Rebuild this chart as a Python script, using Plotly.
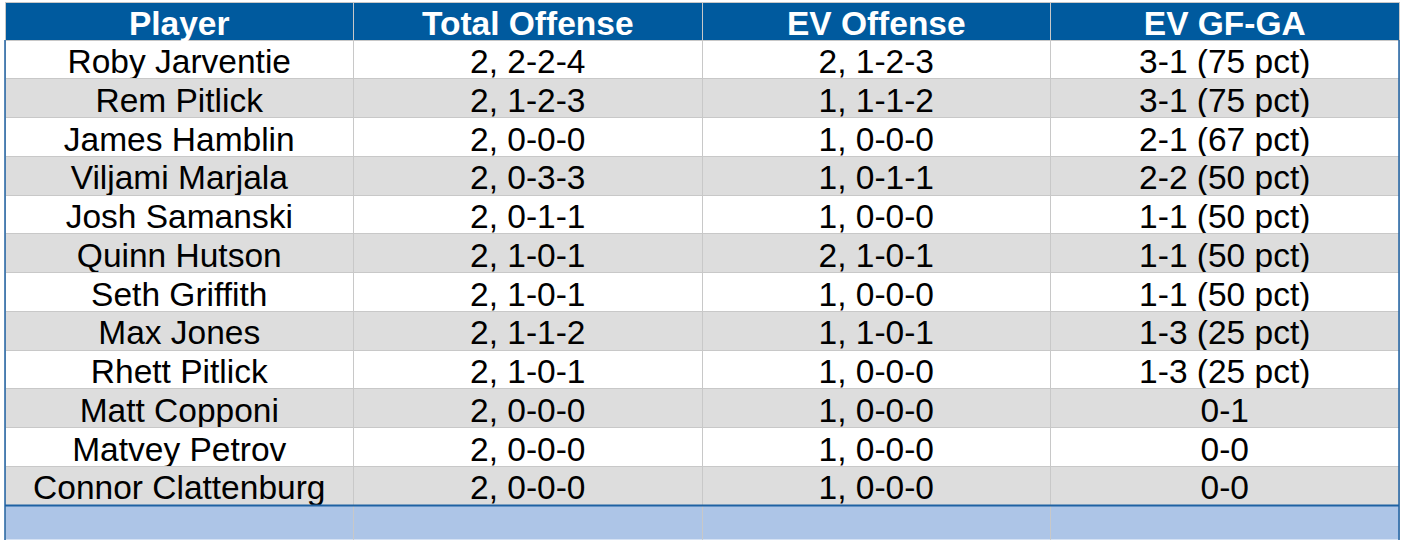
import plotly.graph_objects as go

headers = ["Player", "Total Offense", "EV Offense", "EV GF-GA"]
players = ["Roby Jarventie", "Rem Pitlick", "James Hamblin", "Viljami Marjala",
           "Josh Samanski", "Quinn Hutson", "Seth Griffith", "Max Jones",
           "Rhett Pitlick", "Matt Copponi", "Matvey Petrov", "Connor Clattenburg"]
total_offense = ["2, 2-2-4", "2, 1-2-3", "2, 0-0-0", "2, 0-3-3", "2, 0-1-1", "2, 1-0-1",
                 "2, 1-0-1", "2, 1-1-2", "2, 1-0-1", "2, 0-0-0", "2, 0-0-0", "2, 0-0-0"]
ev_offense = ["2, 1-2-3", "1, 1-1-2", "1, 0-0-0", "1, 0-1-1", "1, 0-0-0", "2, 1-0-1",
              "1, 0-0-0", "1, 1-0-1", "1, 0-0-0", "1, 0-0-0", "1, 0-0-0", "1, 0-0-0"]
ev_gfga = ["3-1 (75 pct)", "3-1 (75 pct)", "2-1 (67 pct)", "2-2 (50 pct)", "1-1 (50 pct)",
           "1-1 (50 pct)", "1-1 (50 pct)", "1-3 (25 pct)", "1-3 (25 pct)", "0-1", "0-0", "0-0"]

HEADER_BLUE = "#005a9e"
GRAY = "#dddddd"
LIGHT_BLUE = "#adc5e7"
GRID = "#c8c8c8"
BORDER = "#1f62a3"
FONT = "Liberation Sans, Arial, sans-serif"

n = len(players)
row_colors = ["white" if i % 2 == 0 else GRAY for i in range(n)]

H = 540
TOP = 2
PLOT_H = H - TOP
HEADER_H = 38
bottom_px = 34.5
yb = bottom_px / PLOT_H
yh = (PLOT_H - HEADER_H) / PLOT_H

fig = go.Figure()
fig.add_trace(go.Table(
    domain=dict(x=[0, 1], y=[yb, 1]),
    columnwidth=[1, 1, 1, 1],
    header=dict(
        values=headers,
        fill_color=HEADER_BLUE,
        line=dict(color=GRID, width=1),
        font=dict(family=FONT, size=33.5, color="white", weight="bold"),
        align="center",
        height=HEADER_H,
    ),
    cells=dict(
        values=[players, total_offense, ev_offense, ev_gfga],
        fill_color=[row_colors] * 4,
        line=dict(color=GRID, width=1),
        font=dict(family=FONT, size=33.5, color="black"),
        align="center",
        height=38.75,
    ),
))
fig.add_trace(go.Table(
    domain=dict(x=[0, 1], y=[0, yb]),
    columnwidth=[1, 1, 1, 1],
    header=dict(
        values=["", "", "", ""],
        fill_color=LIGHT_BLUE,
        line=dict(color=GRID, width=1),
        height=bottom_px,
    ),
))
# table border accents
fig.add_shape(type="line", xref="paper", yref="paper", x0=0, x1=1, y0=yb, y1=yb,
              line=dict(color=BORDER, width=2), layer="above")
fig.add_shape(type="line", xref="paper", yref="paper", x0=0, x1=0, y0=0, y1=yh,
              line=dict(color=BORDER, width=1.5), layer="above")
fig.add_shape(type="line", xref="paper", yref="paper", x0=1, x1=1, y0=0, y1=yh,
              line=dict(color=BORDER, width=1.5), layer="above")
fig.update_layout(
    width=1401, height=H,
    margin=dict(l=5, r=2, t=TOP, b=0),
    paper_bgcolor="white",
)
fig.write_html("out.html", config={"displayModeBar": False},
               post_script="document.body.style.margin='0';")
